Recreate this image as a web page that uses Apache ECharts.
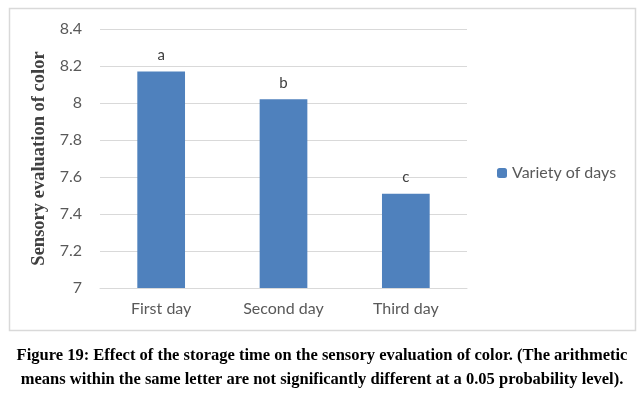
<!DOCTYPE html>
<html>
<head>
<meta charset="utf-8">
<script src="https://cdn.jsdelivr.net/npm/echarts@6/dist/echarts.min.js"></script>
<style>
  html, body { margin: 0; padding: 0; background: #fff; }
  #chart { width: 644px; height: 399px; }
</style>
</head>
<body>
<div id="chart"></div>
<script>
// data
const categories = ['First day', 'Second day', 'Third day']
const values = [8.17, 8.02, 7.51]
const letters = ['a', 'b', 'c']
const seriesName = 'Variety of days'
const captionLines = [
  'Figure 19: Effect of the storage time on the sensory evaluation of color. (The arithmetic',
  'means within the same letter are not significantly different at a 0.05 probability level).'
]

const chart = echarts.init(document.getElementById('chart'))

chart.setOption({
  animation: false,
  textStyle: { fontFamily: 'Lato' },
  grid: { left: 100, right: 177, top: 29, bottom: 111 },
  legend: {
    data: [seriesName],
    left: 492, top: 160,
    itemWidth: 10, itemHeight: 10, itemGap: 4,
    textStyle: { fontSize: 16, color: '#595959', fontFamily: 'Lato' }
  },
  xAxis: {
    type: 'category',
    data: categories,
    axisLine: { lineStyle: { color: '#d9d9d9' } },
    axisTick: { show: false },
    axisLabel: { fontSize: 16, color: '#595959', margin: 13 }
  },
  yAxis: {
    type: 'value',
    min: 7, max: 8.4, interval: 0.2,
    name: 'Sensory evaluation of color',
    nameLocation: 'middle',
    nameGap: 47,
    nameTextStyle: { fontFamily: 'Liberation Serif', fontWeight: 'bold', fontSize: 18.5, color: '#404040' },
    axisLine: { show: false },
    axisTick: { show: false },
    splitLine: { lineStyle: { color: '#d9d9d9' } },
    axisLabel: { fontSize: 16, color: '#595959', margin: 18, formatter: v => +v.toFixed(1) + '' }
  },
  series: [{
    name: seriesName,
    type: 'bar',
    data: values,
    barWidth: '39%',
    itemStyle: { color: '#4f81bd' },
    label: {
      show: true, position: 'top', distance: 9,
      fontSize: 15, color: '#404040',
      formatter: p => letters[p.dataIndex]
    }
  }],
  graphic: [
    {
      type: 'rect', silent: true, z: -1,
      shape: { x: 9.5, y: 8.5, width: 626, height: 322 },
      style: { fill: 'none', stroke: '#d9d9d9', lineWidth: 1.5 }
    },
    {
      type: 'text', left: 'center', top: 344,
      style: {
        text: captionLines.join('\n'),
        textAlign: 'center',
        font: 'bold 16.5px "Liberation Serif"',
        lineHeight: 24,
        fill: '#000'
      }
    }
  ]
})
</script>
</body>
</html>
